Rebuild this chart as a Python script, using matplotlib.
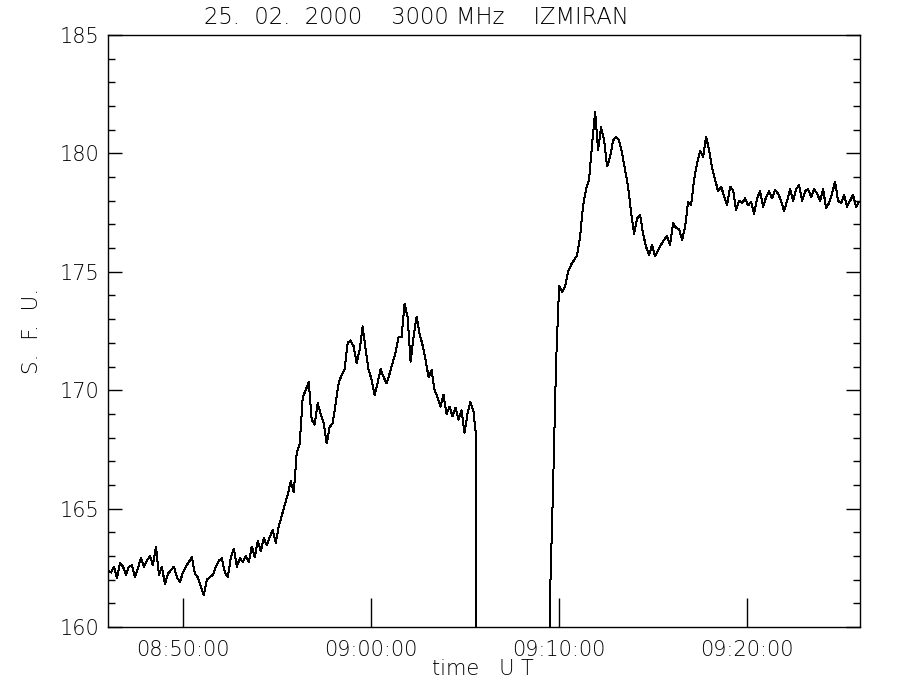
import numpy as np
import matplotlib
matplotlib.use("Agg")
import matplotlib.pyplot as plt
from matplotlib import ticker

# flux (s.f.u.), 3000 MHz, IZMIRAN, 25.02.2000
# first part: 08:46:00 .. 09:05:36, evenly sampled
seg1_t0, seg1_t1 = "08:46:00", "09:05:36"
seg1_flux = [
    162.4, 162.3, 162.55, 162.05, 162.7, 162.55, 162.2, 162.55, 162.6, 162.1,
    162.5, 162.9, 162.55, 162.8, 163.0, 162.6, 163.4, 162.2, 162.55, 161.8,
    162.25, 162.4, 162.55, 162.1, 161.9, 162.3, 162.55, 162.75, 162.95, 162.25,
    162.1, 161.7, 161.35, 162.0, 162.1, 162.2, 162.55, 162.8, 162.9, 162.3,
    162.1, 162.95, 163.3, 162.55, 162.9, 162.75, 163.0, 162.75, 163.4, 162.95,
    163.65, 163.2, 163.75, 163.45, 163.8, 164.1, 163.55, 164.25, 164.7, 165.15,
    165.6, 166.15, 165.7, 167.35, 167.75, 169.7, 170.0, 170.35, 168.75, 168.55,
    169.45, 169.0, 168.6, 167.75, 168.45, 168.6, 169.45, 170.3, 170.65, 170.9,
    172.0, 172.1, 171.85, 171.15, 171.7, 172.7, 171.7, 170.85, 170.45, 169.8,
    170.3, 170.9, 170.55, 170.3, 170.7, 171.15, 171.6, 172.25, 172.25, 173.65,
    173.1, 171.2, 172.25, 173.1, 172.4, 171.9, 171.3, 170.55, 170.85, 170.0,
    169.7, 169.3, 169.8, 169.0, 169.3, 168.9, 169.25, 168.75, 169.15, 168.2,
    169.0, 169.5, 169.1, 167.9,
]

# receiver off scale between the two parts
gap_t = ["09:05:37", "09:09:27"]
gap_flux = [0.0, 0.0]

# second part: 09:09:31 .. 09:25:57, evenly sampled
seg2_t0, seg2_t1 = "09:09:31", "09:25:57"
seg2_flux = [
    161.4, 166.0, 171.2, 174.4,
    174.15, 174.4, 175.0, 175.3, 175.5, 175.7, 176.5, 177.8, 178.5, 178.9,
    180.4, 181.75, 180.15, 181.1, 180.55, 179.45, 179.85, 180.55, 180.7, 180.55,
    180.0, 179.3, 178.6, 177.5, 176.6, 177.25, 177.4, 176.6, 176.05, 175.7,
    176.15, 175.65, 175.9, 176.15, 176.35, 176.5, 176.15, 177.05, 176.85, 176.8,
    176.35, 176.9, 177.95, 177.8, 178.9, 179.6, 180.1, 179.85, 180.7, 180.15,
    179.4, 178.9, 178.4, 178.6, 178.2, 177.8,
    178.6, 178.45, 177.6, 178.0, 177.9, 178.1, 177.8, 177.95, 177.45, 178.1,
    178.4, 177.75, 178.15, 178.4, 178.1, 178.45, 178.3, 178.0, 177.55, 178.0,
    178.5, 178.0, 178.5, 178.65, 178.0, 178.4, 178.5, 178.15, 178.5, 178.3,
    178.0, 178.5, 177.7, 177.9, 178.3, 178.8, 178.0, 177.9, 178.25, 177.75,
    178.0, 178.25, 177.75, 177.95,
]

x_range = ["08:46:00", "09:26:00"]
x_ticks = ["08:50:00", "09:00:00", "09:10:00", "09:20:00"]


def sec(s):
    h, m, c = s.split(":")
    return int(h) * 3600 + int(m) * 60 + int(c)


def hms(v, pos=None):
    v = int(round(v))
    return "%02d:%02d:%02d" % (v // 3600, (v % 3600) // 60, v % 60)


t = np.concatenate([
    np.linspace(sec(seg1_t0), sec(seg1_t1), len(seg1_flux)),
    [sec(s) for s in gap_t],
    np.linspace(sec(seg2_t0), sec(seg2_t1), len(seg2_flux)),
])
flux = np.concatenate([seg1_flux, gap_flux, seg2_flux])

plt.rcParams['font.family'] = ['DejaVu Sans']
plt.rcParams['font.weight'] = 'light'

fig = plt.figure(figsize=(9, 7), dpi=100)
ax = fig.add_axes([108 / 900, 1 - 627 / 700, 752 / 900, 592 / 700])

ax.plot(t, flux, color='black', lw=0.72, antialiased=False)

ax.set_xlim(sec(x_range[0]), sec(x_range[1]))
ax.set_ylim(160, 185)

ax.set_xticks([sec(s) for s in x_ticks])
ax.xaxis.set_major_formatter(ticker.FuncFormatter(hms))
ax.yaxis.set_major_locator(ticker.MultipleLocator(5))
ax.yaxis.set_minor_locator(ticker.MultipleLocator(1))

ax.tick_params(axis='x', which='major', direction='in', length=21, width=1,
               top=False, bottom=True, labelsize=15, pad=9)
ax.tick_params(axis='y', which='major', direction='in', length=10, width=1,
               left=True, right=True, labelsize=15, pad=6)
ax.tick_params(axis='y', which='minor', direction='in', length=5, width=1,
               left=True, right=True)
for sp in ax.spines.values():
    sp.set_linewidth(1)

fig.text(416 / 900, 1 - 17 / 700, "25.  02.  2000    3000 MHz    IZMIRAN",
         ha='center', va='center', fontsize=16.3)
fig.text(483 / 900, 1 - 669 / 700, "time   U T", ha='center', va='center',
         fontsize=15)
fig.text(32 / 900, 1 - 331 / 700, "S.  F.  U.", ha='center', va='center',
         rotation=90, fontsize=15.5)

fig.savefig("out.png", dpi=100, facecolor='white')
